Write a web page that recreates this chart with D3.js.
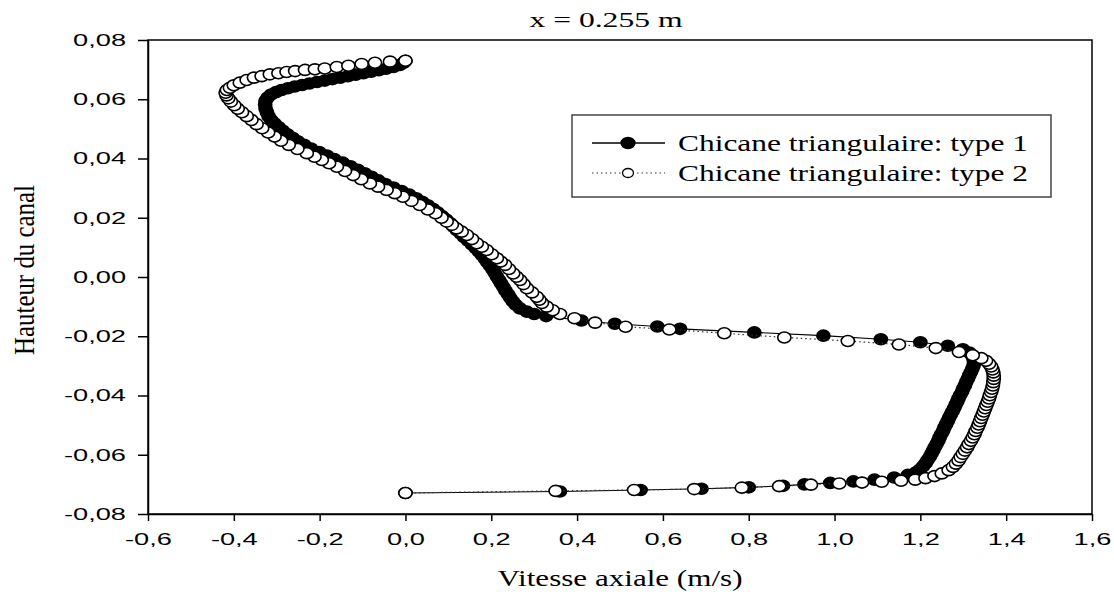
<!DOCTYPE html>
<html>
<head>
<meta charset="utf-8">
<script src="https://cdnjs.cloudflare.com/ajax/libs/d3/7.8.5/d3.min.js"></script>
<style>
  body { margin: 0; background: #fff; }
</style>
</head>
<body>
<script>

// profile at x = 0.255 m (velocity m/s, height m)
var type1Vitesse = [0.000, 0.360, 0.548, 0.690, 0.800, 0.880, 0.930, 0.990, 1.044, 1.093, 1.139, 1.171, 1.190,
    1.199, 1.206, 1.212, 1.217, 1.222, 1.226, 1.230, 1.234, 1.238, 1.242, 1.245, 1.249, 1.253, 1.256, 1.260,
    1.264, 1.267, 1.271, 1.275, 1.279, 1.282, 1.286, 1.289, 1.293, 1.297, 1.300, 1.304, 1.307, 1.311, 1.314,
    1.318, 1.321, 1.324, 1.325, 1.324, 1.321, 1.314, 1.299, 1.264, 1.200, 1.108, 0.974, 0.813, 0.640, 0.587,
    0.488, 0.410, 0.328, 0.300, 0.283, 0.267, 0.257, 0.250, 0.244, 0.239, 0.233, 0.228, 0.223, 0.218, 0.213,
    0.208, 0.203, 0.197, 0.191, 0.185, 0.178, 0.171, 0.163, 0.155, 0.146, 0.137, 0.129, 0.120, 0.112, 0.104,
    0.095, 0.085, 0.075, 0.064, 0.052, 0.039, 0.025, 0.009, -0.009, -0.028, -0.047, -0.063, -0.079, -0.095,
    -0.111, -0.128, -0.146, -0.166, -0.183, -0.201, -0.220, -0.236, -0.251, -0.263, -0.275, -0.286, -0.296,
    -0.305, -0.313, -0.319, -0.323, -0.326, -0.327, -0.326, -0.321, -0.313, -0.302, -0.289, -0.274, -0.258,
    -0.241, -0.224, -0.206, -0.188, -0.170, -0.152, -0.134, -0.116, -0.098, -0.080, -0.062, -0.045, -0.028,
    -0.013, -0.004, 0.000];
var type1Hauteur = [-0.0729, -0.0724, -0.0719, -0.0715, -0.0710, -0.0705, -0.0700, -0.0695, -0.0690, -0.0684,
    -0.0677, -0.0668, -0.0659, -0.0650, -0.0640, -0.0629, -0.0618, -0.0607, -0.0596, -0.0585, -0.0574, -0.0563,
    -0.0552, -0.0541, -0.0530, -0.0519, -0.0508, -0.0497, -0.0486, -0.0475, -0.0464, -0.0453, -0.0442, -0.0431,
    -0.0420, -0.0409, -0.0398, -0.0387, -0.0376, -0.0365, -0.0354, -0.0343, -0.0332, -0.0321, -0.0310, -0.0299,
    -0.0288, -0.0277, -0.0266, -0.0255, -0.0244, -0.0232, -0.0220, -0.0210, -0.0198, -0.0187, -0.0175, -0.0167,
    -0.0158, -0.0147, -0.0132, -0.0125, -0.0117, -0.0106, -0.0094, -0.0082, -0.0070, -0.0058, -0.0046, -0.0034,
    -0.0022, -0.0010, 0.0002, 0.0014, 0.0026, 0.0038, 0.0050, 0.0062, 0.0074, 0.0086, 0.0098, 0.0110, 0.0122,
    0.0134, 0.0146, 0.0158, 0.0170, 0.0182, 0.0194, 0.0206, 0.0218, 0.0230, 0.0242, 0.0254, 0.0266, 0.0278,
    0.0290, 0.0302, 0.0314, 0.0326, 0.0338, 0.0350, 0.0362, 0.0374, 0.0386, 0.0398, 0.0410, 0.0422, 0.0434,
    0.0446, 0.0458, 0.0470, 0.0482, 0.0494, 0.0506, 0.0518, 0.0530, 0.0543, 0.0556, 0.0569, 0.0582, 0.0595,
    0.0606, 0.0616, 0.0624, 0.0631, 0.0637, 0.0643, 0.0648, 0.0653, 0.0658, 0.0663, 0.0668, 0.0673, 0.0678,
    0.0683, 0.0688, 0.0693, 0.0698, 0.0703, 0.0709, 0.0716, 0.0723, 0.0730];

var type2Vitesse = [0.000, 0.350, 0.533, 0.673, 0.784, 0.871, 0.945, 1.011, 1.064, 1.110, 1.155, 1.188, 1.212,
    1.233, 1.250, 1.266, 1.276, 1.283, 1.289, 1.294, 1.299, 1.304, 1.309, 1.313, 1.318, 1.322, 1.326, 1.329,
    1.333, 1.336, 1.339, 1.342, 1.345, 1.348, 1.351, 1.354, 1.357, 1.360, 1.362, 1.365, 1.367, 1.369, 1.370,
    1.371, 1.371, 1.370, 1.368, 1.365, 1.360, 1.353, 1.342, 1.322, 1.290, 1.236, 1.150, 1.031, 0.883, 0.743,
    0.615, 0.513, 0.442, 0.394, 0.360, 0.343, 0.329, 0.318, 0.312, 0.306, 0.295, 0.283, 0.275, 0.267, 0.259,
    0.251, 0.241, 0.232, 0.222, 0.213, 0.201, 0.189, 0.178, 0.166, 0.155, 0.143, 0.131, 0.119, 0.108, 0.096,
    0.084, 0.070, 0.052, 0.033, 0.014, -0.006, -0.025, -0.044, -0.064, -0.083, -0.103, -0.122, -0.141, -0.160,
    -0.178, -0.195, -0.212, -0.230, -0.252, -0.272, -0.290, -0.305, -0.320, -0.334, -0.347, -0.359, -0.370,
    -0.381, -0.391, -0.399, -0.407, -0.413, -0.417, -0.419, -0.416, -0.409, -0.400, -0.386, -0.370, -0.353,
    -0.335, -0.316, -0.296, -0.277, -0.257, -0.234, -0.211, -0.188, -0.160, -0.133, -0.102, -0.071, -0.036, 0.000];
var type2Hauteur = [-0.0729, -0.0722, -0.0719, -0.0716, -0.0711, -0.0706, -0.0701, -0.0697, -0.0694, -0.0691,
    -0.0688, -0.0684, -0.0679, -0.0672, -0.0663, -0.0652, -0.0641, -0.0630, -0.0619, -0.0608, -0.0597, -0.0586,
    -0.0575, -0.0564, -0.0553, -0.0542, -0.0531, -0.0520, -0.0509, -0.0498, -0.0487, -0.0476, -0.0465, -0.0454,
    -0.0443, -0.0432, -0.0421, -0.0410, -0.0399, -0.0388, -0.0377, -0.0366, -0.0355, -0.0344, -0.0333, -0.0322,
    -0.0312, -0.0302, -0.0293, -0.0283, -0.0274, -0.0264, -0.0253, -0.0240, -0.0228, -0.0216, -0.0204, -0.0190,
    -0.0177, -0.0168, -0.0154, -0.0139, -0.0125, -0.0112, -0.0100, -0.0088, -0.0077, -0.0067, -0.0052, -0.0038,
    -0.0024, -0.0010, 0.0001, 0.0012, 0.0027, 0.0041, 0.0052, 0.0063, 0.0077, 0.0091, 0.0102, 0.0114, 0.0128,
    0.0142, 0.0153, 0.0164, 0.0176, 0.0187, 0.0200, 0.0215, 0.0228, 0.0243, 0.0257, 0.0271, 0.0283, 0.0294,
    0.0305, 0.0316, 0.0330, 0.0344, 0.0358, 0.0372, 0.0384, 0.0395, 0.0406, 0.0418, 0.0432, 0.0446, 0.0460,
    0.0474, 0.0488, 0.0502, 0.0516, 0.0530, 0.0543, 0.0556, 0.0568, 0.0580, 0.0592, 0.0603, 0.0613, 0.0622,
    0.0631, 0.0639, 0.0647, 0.0656, 0.0665, 0.0673, 0.0678, 0.0684, 0.0688, 0.0692, 0.0695, 0.0699, 0.0701,
    0.0704, 0.0709, 0.0713, 0.0719, 0.0723, 0.0727, 0.0730];

var seriesNames = ["Chicane triangulaire: type 1", "Chicane triangulaire: type 2"];
var xTicks = [-0.6, -0.4, -0.2, 0.0, 0.2, 0.4, 0.6, 0.8, 1.0, 1.2, 1.4, 1.6];
var yTicks = [-0.08, -0.06, -0.04, -0.02, 0.00, 0.02, 0.04, 0.06, 0.08];

// plot box
var W = 1114, H = 592;
var plotL = 148, plotR = 1092, plotT = 40, plotB = 514;

var svg = d3.select("body")
    .append("svg")
    .attr("width", W)
    .attr("height", H);

var x = d3.scaleLinear().domain([-0.6, 1.6]).range([plotL, plotR]);
var y = d3.scaleLinear().domain([-0.08, 0.08]).range([plotB, plotT]);

// the original figure is stretched sideways, so text gets widened too
function stretch(sel, k) {
    sel.each(function() {
        var w = this.getComputedTextLength();
        d3.select(this).attr("textLength", w * k).attr("lengthAdjust", "spacingAndGlyphs");
    });
}

function comma(p) {
    return function(d) { return d3.format("." + p + "f")(d).replace("\u2212", "-").replace(".", ","); };
}

// frame
svg.append("rect")
    .attr("x", plotL).attr("y", plotT)
    .attr("width", plotR - plotL).attr("height", plotB - plotT)
    .attr("fill", "none").attr("stroke", "#000").attr("stroke-width", 1.5);

var xAxis = svg.append("g")
    .attr("transform", "translate(0," + plotB + ")")
    .call(d3.axisBottom(x).tickValues(xTicks).tickFormat(comma(1)).tickSize(7).tickSizeOuter(0).tickPadding(12));

var yAxis = svg.append("g")
    .attr("transform", "translate(" + plotL + ",0)")
    .call(d3.axisLeft(y).tickValues(yTicks).tickFormat(comma(2)).tickSize(10).tickSizeOuter(0).tickPadding(12));

[xAxis, yAxis].forEach(function(g) {
    g.selectAll("path, line").attr("stroke", "#000").attr("stroke-width", 1.5);
    g.selectAll("text")
        .attr("fill", "#000")
        .style("font-family", "'Liberation Sans', Arial, sans-serif")
        .style("font-size", "17px");
    stretch(g.selectAll("text"), 1.6);
});

// curves
var line = d3.line()
    .x(function(d) { return x(d[0]); })
    .y(function(d) { return y(d[1]); });

var data1 = d3.zip(type1Vitesse, type1Hauteur);
var data2 = d3.zip(type2Vitesse, type2Hauteur);

svg.append("path")
    .datum(data1)
    .attr("d", line)
    .attr("fill", "none")
    .attr("stroke", "#000")
    .attr("stroke-width", 1.1);

svg.selectAll(".m1")
    .data(data1)
    .enter()
    .append("ellipse")
    .attr("class", "m1")
    .attr("cx", function(d) { return x(d[0]); })
    .attr("cy", function(d) { return y(d[1]); })
    .attr("rx", 6.6).attr("ry", 5.5)
    .attr("fill", "#000").attr("stroke", "#000").attr("stroke-width", 1.6);

svg.append("path")
    .datum(data2)
    .attr("d", line)
    .attr("fill", "none")
    .attr("stroke", "#333")
    .attr("stroke-width", 1.2)
    .attr("stroke-dasharray", "1.5,3");

svg.selectAll(".m2")
    .data(data2)
    .enter()
    .append("ellipse")
    .attr("class", "m2")
    .attr("cx", function(d) { return x(d[0]); })
    .attr("cy", function(d) { return y(d[1]); })
    .attr("rx", 6.6).attr("ry", 5.5)
    .attr("fill", "#fff").attr("stroke", "#000").attr("stroke-width", 1.6);

// legend
var legend = svg.append("g");
legend.append("rect")
    .attr("x", 572).attr("y", 115).attr("width", 479).attr("height", 82)
    .attr("fill", "#fff").attr("stroke", "#444").attr("stroke-width", 1.5);

var rows = legend.selectAll(".row")
    .data(seriesNames)
    .enter()
    .append("g")
    .attr("transform", function(d, i) { return "translate(0," + (143 + i * 30) + ")"; });

rows.append("line")
    .attr("x1", 592).attr("x2", 665)
    .attr("stroke", function(d, i) { return i ? "#333" : "#000"; })
    .attr("stroke-width", function(d, i) { return i ? 1.2 : 1.5; })
    .attr("stroke-dasharray", function(d, i) { return i ? "1.5,3" : null; });

rows.append("ellipse")
    .attr("cx", 628)
    .attr("rx", function(d, i) { return i ? 5.5 : 7; })
    .attr("ry", function(d, i) { return i ? 4.5 : 5.5; })
    .attr("fill", function(d, i) { return i ? "#fff" : "#000"; })
    .attr("stroke", "#000").attr("stroke-width", 1.3);

rows.append("text")
    .attr("x", 678).attr("y", 8)
    .style("font-family", "'Liberation Serif', 'Times New Roman', serif")
    .style("font-size", "24px")
    .attr("textLength", 350).attr("lengthAdjust", "spacingAndGlyphs")
    .text(function(d) { return d; });

// titles
var serif = "'Liberation Serif', 'Times New Roman', serif";

svg.append("text")
    .attr("x", 606).attr("y", 27)
    .attr("text-anchor", "middle")
    .style("font-family", serif).style("font-size", "21px")
    .attr("textLength", 153).attr("lengthAdjust", "spacingAndGlyphs")
    .text("x = 0.255 m");

svg.append("text")
    .attr("x", 620).attr("y", 586)
    .attr("text-anchor", "middle")
    .style("font-family", serif).style("font-size", "23px")
    .attr("textLength", 245).attr("lengthAdjust", "spacingAndGlyphs")
    .text("Vitesse axiale (m/s)");

svg.append("text")
    .attr("transform", "translate(34,270) rotate(-90)")
    .attr("text-anchor", "middle")
    .style("font-family", serif).style("font-size", "30px")
    .attr("textLength", 170).attr("lengthAdjust", "spacingAndGlyphs")
    .text("Hauteur du canal");

</script>
</body>
</html>
